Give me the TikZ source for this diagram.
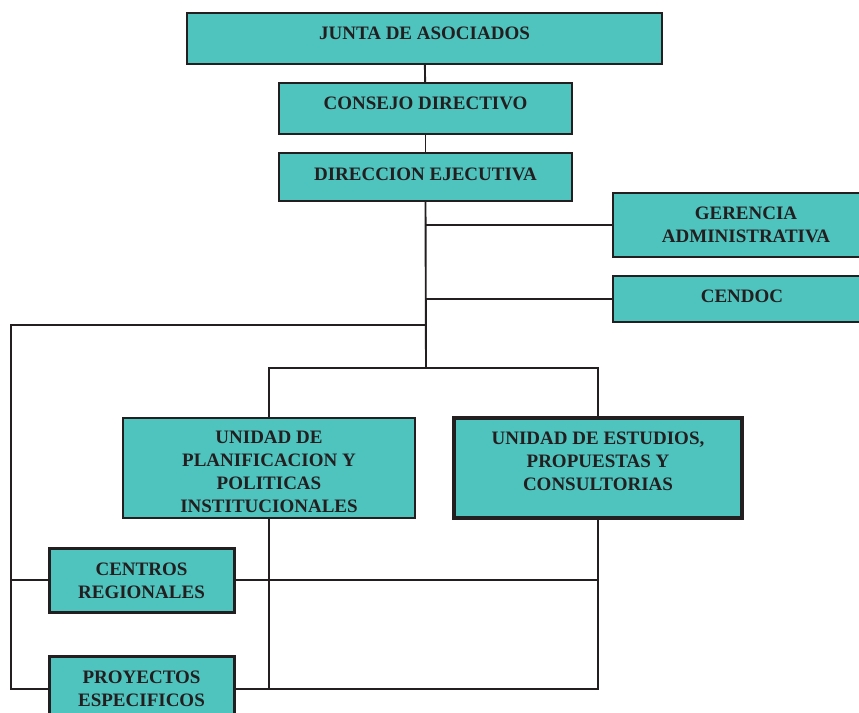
\documentclass[tikz,border=0pt]{standalone}
\usepackage{fontspec}
\setmainfont{Liberation Serif}
\definecolor{boxfill}{HTML}{4FC3BE}
\definecolor{ink}{HTML}{231F20}
\begin{document}
\begin{tikzpicture}[x=1pt,y=-1pt,
  box/.style={draw=ink, fill=boxfill, line width=2.4pt, inner sep=0pt},
  txt/.style={text=ink, font=\fontsize{19}{23}\selectfont\bfseries, align=center},
  link/.style={draw=ink, line width=1.9pt}]
\useasboundingbox (0,0) rectangle (859,712);

% upper chain of command
\node[box, minimum width=475pt, minimum height=51pt,
  label={[txt, yshift=5.5pt]center:JUNTA DE ASOCIADOS}] (junta) at (424.5,38.5) {};
\node[box, minimum width=293pt, minimum height=51pt,
  label={[txt, yshift=5.5pt]center:CONSEJO DIRECTIVO}] (consejo) at (425.5,108.5) {};
\node[box, minimum width=293pt, minimum height=48pt,
  label={[txt, yshift=3pt]center:DIRECCION EJECUTIVA}] (direccion) at (425.5,177) {};

% staff units on the right
\node[box, minimum width=274pt, minimum height=64pt,
  label={[txt, xshift=-4pt]center:GERENCIA\\ADMINISTRATIVA}] (gerencia) at (750,225) {};
\node[box, minimum width=258pt, minimum height=46pt,
  label={[txt, yshift=3pt]center:CENDOC}] (cendoc) at (742,299) {};

% operational units
\node[box, minimum width=292pt, minimum height=100pt, line width=1.8pt,
  label={[txt, yshift=-4pt]center:UNIDAD DE\\PLANIFICACION Y\\POLITICAS\\INSTITUCIONALES}] (uplan) at (269,468) {};
\node[box, minimum width=288pt, minimum height=100pt, line width=3.4pt,
  label={[txt, yshift=7pt]center:UNIDAD DE ESTUDIOS,\\PROPUESTAS Y\\CONSULTORIAS}] (uest) at (598,468) {};
\node[box, minimum width=185pt, minimum height=64pt, line width=3pt,
  label={[txt, yshift=-1pt]center:CENTROS\\REGIONALES}] (centros) at (141.5,580) {};
\node[box, minimum width=185pt, minimum height=66pt, line width=3pt,
  label={[txt]center:PROYECTOS\\ESPECIFICOS}] (proyectos) at (141.5,689) {};

% junction points
\coordinate (hub) at (426,368);
\coordinate (lt) at (426,325);
\coordinate (lcorner) at (11,325);

% connectors
\draw[link] (junta) -- (consejo);
\draw[link] (consejo) -- (direccion);
\draw[link] (direccion.south) -- (hub);
\draw[link] (direccion.south |- gerencia.west) -- (gerencia.west);
\draw[link] (direccion.south |- cendoc.west) -- (cendoc.west);
\draw[link] (uplan.north) -- (uplan.north |- hub) -- (uest.north |- hub) -- (uest.north);
\draw[link] (lt) -- (lcorner) -- (lcorner |- proyectos.west) -- (proyectos.west);
\draw[link] (lcorner |- centros.west) -- (centros.west);
\draw[link] (centros.east) -- (centros.east -| uest.south);
\draw[link] (uplan.south) -- (uplan.south |- proyectos.east);
\draw[link] (uest.south) -- (uest.south |- proyectos.east) -- (proyectos.east);
\end{tikzpicture}
\end{document}
